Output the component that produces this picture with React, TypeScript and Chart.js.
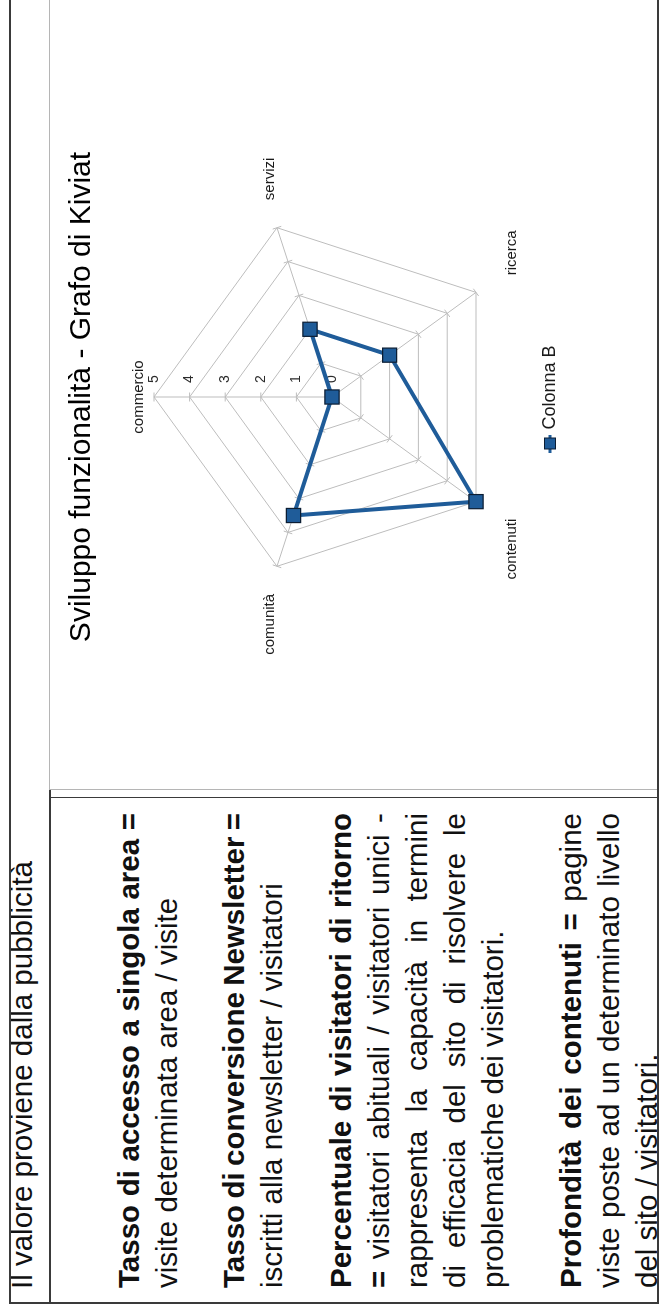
import { useEffect, useRef } from 'react';
import { Chart, registerables } from 'chart.js';

Chart.register(...registerables);

// ---------- data ----------
const categories = ['commercio', 'servizi', 'ricerca', 'contenuti', 'comunità'];
const seriesName = 'Colonna B';
const seriesValues = [0, 2, 2, 5, 3.5];
const tickValues = [0, 1, 2, 3, 4, 5];
const tickLabels = ['0', '1', '2', '3', '4', '5'];
const chartTitle = 'Sviluppo funzionalità - Grafo di Kiviat';
const headerText = 'Il valore proviene dalla pubblicità';

type Run = [string, boolean];
type Line = { runs: Run[]; justify: boolean };

const paragraph1: Line[] = [
  { runs: [['Tasso di accesso a singola area =', true]], justify: true },
  { runs: [['visite determinata area / visite', false]], justify: false },
];
const paragraph2: Line[] = [
  { runs: [['Tasso di conversione Newsletter =', true]], justify: true },
  { runs: [['iscritti alla newsletter / visitatori', false]], justify: false },
];
const paragraph3: Line[] = [
  { runs: [['Percentuale di visitatori di ritorno', true]], justify: true },
  { runs: [['=', true], ['visitatori abituali / visitatori unici -', false]], justify: true },
  { runs: [['rappresenta la capacità in termini', false]], justify: true },
  { runs: [['di efficacia del sito di risolvere le', false]], justify: true },
  { runs: [['problematiche dei visitatori.', false]], justify: false },
];
const paragraph4: Line[] = [
  { runs: [['Profondità dei contenuti =', true], ['pagine', false]], justify: true },
  { runs: [['viste poste ad un determinato livello', false]], justify: true },
  { runs: [['del sito / visitatori.', false]], justify: false },
];
const paragraphs = [paragraph1, paragraph2, paragraph3, paragraph4];

// ---------- styles ----------
const FONT = "'Liberation Sans', Arial, Helvetica, sans-serif";
const GRID = '#bdbdbd';
const BLUE = '#1f5c99';
const MARKER_BORDER = '#0b1d33';
const BORDER = '#3a3a3a';

function makeLegendIcon() {
  const c = document.createElement('canvas');
  c.width = 18;
  c.height = 14;
  const g = c.getContext('2d')!;
  g.strokeStyle = BLUE;
  g.lineWidth = 3;
  g.beginPath();
  g.moveTo(0, 7);
  g.lineTo(18, 7);
  g.stroke();
  g.fillStyle = BLUE;
  g.fillRect(3.5, 1.5, 11, 11);
  g.strokeStyle = MARKER_BORDER;
  g.lineWidth = 1;
  g.strokeRect(3.5, 1.5, 11, 11);
  return c;
}

const decorPlugin = {
  id: 'kiviatDecor',
  beforeDatasetsDraw(chart: any) {
    const scale = chart.scales.r;
    const ctx = chart.ctx as CanvasRenderingContext2D;
    const r = scale.drawingArea;
    ctx.save();
    // small tick marks across every spoke at each ring
    ctx.strokeStyle = GRID;
    ctx.lineWidth = 1;
    categories.forEach((_, i) => {
      tickValues.forEach((v) => {
        if (v === 0) return;
        const p = scale.getPointPosition(i, scale.getDistanceFromCenterForValue(v));
        const nx = -Math.sin(p.angle);
        const ny = Math.cos(p.angle);
        ctx.beginPath();
        ctx.moveTo(p.x - nx * 4.5, p.y - ny * 4.5);
        ctx.lineTo(p.x + nx * 4.5, p.y + ny * 4.5);
        ctx.stroke();
      });
    });
    // value labels beside the first axis
    ctx.fillStyle = '#2b2b2b';
    ctx.font = `14px ${FONT}`;
    ctx.textAlign = 'center';
    ctx.textBaseline = 'middle';
    tickValues.forEach((v, k) => {
      const p = scale.getPointPosition(0, scale.getDistanceFromCenterForValue(v));
      ctx.fillText(tickLabels[k], p.x + 18, p.y);
    });
    // category labels
    ctx.fillStyle = '#1a1a1a';
    ctx.font = `15px ${FONT}`;
    categories.forEach((label, i) => {
      const ang = scale.getIndexAngle(i);
      const s = Math.sin(ang);
      const c = Math.cos(ang);
      if (Math.abs(s) < 0.01) {
        const p = scale.getPointPosition(i, r + 11);
        ctx.textAlign = 'center';
        ctx.textBaseline = c > 0 ? 'alphabetic' : 'top';
        ctx.fillText(label, p.x, p.y);
      } else {
        const p = scale.getPointPosition(i, r + 29);
        ctx.textAlign = s > 0 ? 'left' : 'right';
        ctx.textBaseline = 'middle';
        ctx.fillText(label, p.x, p.y + (c < 0 ? 12 : 2));
      }
    });
    ctx.restore();
  },
};

function LineView({ line }: { line: Line }) {
  if (line.justify) {
    const words: Run[] = [];
    line.runs.forEach(([t, b]) =>
      t.split(' ').forEach((w) => {
        if (w) words.push([w, b]);
      })
    );
    return (
      <div
        style={{
          display: 'flex',
          justifyContent: 'space-between',
          height: 38,
          lineHeight: '38px',
          whiteSpace: 'nowrap',
        }}
      >
        {words.map(([w, b], k) => (
          <span key={k} style={{ fontWeight: b ? 700 : 400 }}>
            {w}
          </span>
        ))}
      </div>
    );
  }
  return (
    <div style={{ height: 38, lineHeight: '38px', whiteSpace: 'pre' }}>
      {line.runs.map(([t, b], k) => (
        <span key={k} style={{ fontWeight: b ? 700 : 400 }}>
          {(k > 0 ? ' ' : '') + t}
        </span>
      ))}
    </div>
  );
}

export default function App() {
  const ref = useRef<HTMLCanvasElement>(null);

  useEffect(() => {
    if (!ref.current) return;
    const chart = new Chart(ref.current, {
      type: 'radar',
      data: {
        labels: categories,
        datasets: [
          {
            label: seriesName,
            data: seriesValues,
            borderColor: BLUE,
            borderWidth: 4,
            backgroundColor: 'rgba(0,0,0,0)',
            fill: false,
            pointStyle: 'rect',
            pointRadius: 10,
            pointHoverRadius: 10,
            pointBackgroundColor: BLUE,
            pointBorderColor: MARKER_BORDER,
            pointBorderWidth: 1.2,
            tension: 0,
          },
        ],
      },
      options: {
        responsive: false,
        animation: false,
        layout: { padding: { left: 0, right: 6, top: 0, bottom: 89 } },
        scales: {
          r: {
            min: 0,
            max: 5,
            beginAtZero: true,
            ticks: { stepSize: 1, display: false },
            grid: { color: GRID, lineWidth: 1, circular: false },
            angleLines: { color: GRID, lineWidth: 1 },
            pointLabels: { display: false },
          },
        },
        plugins: {
          title: {
            display: true,
            text: chartTitle,
            color: '#000',
            font: { family: FONT, size: 30, weight: 'normal' },
            padding: { top: 14, bottom: 54 },
          },
          legend: {
            display: true,
            position: 'bottom',
            labels: {
              usePointStyle: true,
              pointStyle: makeLegendIcon() as any,
              boxWidth: 10,
              padding: 31,
              color: '#1a1a1a',
              font: { family: FONT, size: 18 },
            },
          },
          tooltip: { enabled: false },
        },
      },
      plugins: [decorPlugin],
    });
    return () => chart.destroy();
  }, []);

  const paraGaps = [0, 29, 31, 40];

  return (
    <div
      style={{
        position: 'absolute',
        left: 0,
        top: 0,
        width: 660,
        height: 1315,
        overflow: 'hidden',
        background: '#fff',
      }}
    >
      <div
        style={{
          position: 'absolute',
          left: 0,
          top: 1315,
          width: 1315,
          height: 660,
          transform: 'rotate(-90deg)',
          transformOrigin: '0 0',
          fontFamily: FONT,
          color: '#111',
        }}
      >
        {/* table lines under the chart */}
        <div style={{ position: 'absolute', left: 11, top: 49, width: 1304, height: 1.5, background: BORDER }} />

        {/* header row */}
        <div
          style={{
            position: 'absolute',
            left: 26,
            top: 3.3,
            fontSize: 29.5,
            lineHeight: '38px',
            whiteSpace: 'nowrap',
          }}
        >
          {headerText}
        </div>

        {/* definitions cell */}
        <div style={{ position: 'absolute', left: 27, top: 109.8, width: 475, fontSize: 29.5 }}>
          {paragraphs.map((p, pi) => (
            <div key={pi} style={{ marginTop: paraGaps[pi] }}>
              {p.map((line, li) => (
                <LineView key={li} line={line} />
              ))}
            </div>
          ))}
        </div>

        {/* chart picture */}
        <div
          style={{
            position: 'absolute',
            left: 525,
            top: 49,
            width: 790,
            height: 608,
            border: '1px solid #b5b5b5',
            background: '#fff',
          }}
        >
          <canvas ref={ref} width={790} height={608} style={{ display: 'block', width: 790, height: 608 }} />
        </div>

        {/* table borders */}
        <div style={{ position: 'absolute', left: 11, top: 9, width: 1304, height: 2, background: BORDER }} />
        <div style={{ position: 'absolute', left: 11, top: 9, width: 2, height: 650, background: BORDER }} />
        <div style={{ position: 'absolute', left: 11, top: 657, width: 1304, height: 2, background: BORDER }} />
        <div style={{ position: 'absolute', left: 516.5, top: 50, width: 1.5, height: 608, background: BORDER }} />
      </div>
    </div>
  );
}
